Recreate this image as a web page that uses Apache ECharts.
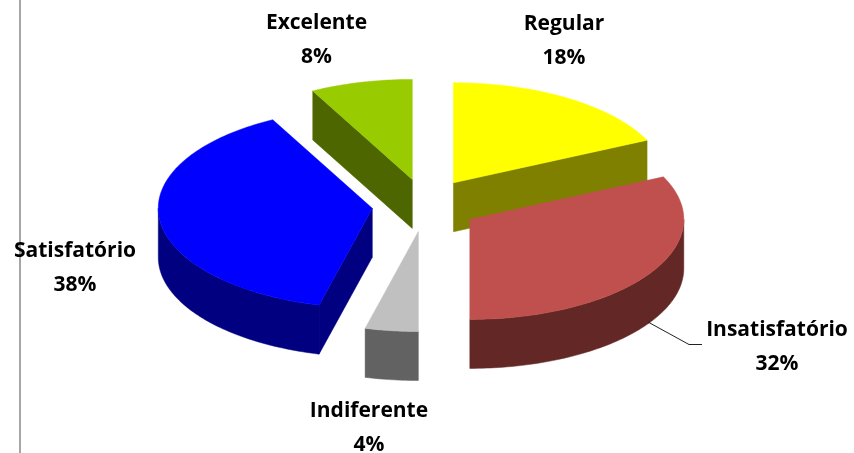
<!DOCTYPE html>
<html><head><meta charset="utf-8">
<style>html,body{margin:0;padding:0;background:#fff}#c{width:854px;height:453px}</style>
<script src="https://cdn.jsdelivr.net/npm/echarts@6/dist/echarts.min.js"></script>
</head><body><div id="c"></div>
<script>
const categories = ['Regular', 'Insatisfatório', 'Indiferente', 'Satisfatório', 'Excelente'];
const values = [18, 32, 4, 38.3, 7.7];
const topColors = ['#FFFF00', '#C0504D', '#C0C0C0', '#0000FF', '#99CC00'];
const sideColors = ['#808000', '#632826', '#626262', '#000080', '#4D6600'];
const labelCentres = [[564, 41.5], [777, 347], [369, 428.5], [75, 268], [316.5, 40.5]];

const CX = 425, CY = 205.2, RX = 214, RY = 100, EXPLODE = 0.248, DEPTH = 49;
const total = values.reduce((a, b) => a + b, 0);
const rad = v => v / total * 2 * Math.PI;
const starts = values.map((_, i) => values.slice(0, i).reduce((a, b) => a + b, 0));

function pt(c, a, dy) { return [c[0] + RX * Math.sin(a), c[1] - RY * Math.cos(a) + (dy || 0)]; }
function arc(c, a0, a1, dy) {
  const n = Math.max(2, Math.ceil((a1 - a0) / 0.02)), out = [];
  for (let k = 0; k <= n; k++) out.push(pt(c, a0 + (a1 - a0) * k / n, dy));
  return out;
}
function poly(points, fill) {
  return { type: 'polygon', shape: { points }, style: { fill, stroke: fill, lineWidth: 0.5 } };
}
function renderItem(params, api) {
  const i = params.dataIndex;
  const a0 = rad(starts[i]), a1 = rad(starts[i] + values[i]), mid = (a0 + a1) / 2;
  const c = [CX + EXPLODE * RX * Math.sin(mid), CY - EXPLODE * 107 * Math.cos(mid)];
  const apexLow = [c[0], c[1] + DEPTH], kids = [];
  // radial walls facing the viewer
  if (Math.sin(a1) > 0.01) kids.push(poly([c, pt(c, a1), pt(c, a1, DEPTH), apexLow], sideColors[i]));
  if (Math.sin(a0) < -0.01) kids.push(poly([c, pt(c, a0), pt(c, a0, DEPTH), apexLow], sideColors[i]));
  // outer wall: lower half of the rim only
  const f0 = Math.max(a0, Math.PI / 2), f1 = Math.min(a1, 3 * Math.PI / 2);
  if (f1 > f0) kids.push(poly(arc(c, f0, f1, 0).concat(arc(c, f0, f1, DEPTH).reverse()), sideColors[i]));
  // top face
  kids.push(poly([c].concat(arc(c, a0, a1, 0)), topColors[i]));
  // label
  kids.push({
    type: 'text', z2: 50,
    style: {
      x: labelCentres[i][0], y: labelCentres[i][1],
      text: categories[i] + '\n' + Math.round(values[i]) + '%',
      fill: '#000', align: 'center', verticalAlign: 'middle',
      font: 'bold 21px "Open Sans"', lineHeight: 34
    }
  });
  return { type: 'group', children: kids };
}
const chart = echarts.init(document.getElementById('c'), null, { renderer: 'canvas' });
chart.setOption({
  animation: false,
  backgroundColor: '#fff',
  graphic: [
    { type: 'line', z: -1, shape: { x1: 20, y1: 0, x2: 20, y2: 453 }, style: { stroke: '#a6a6a6', lineWidth: 2 } },
    { type: 'polyline', z: 10, shape: { points: [[648, 322], [689, 344.5], [702, 344.5]] }, style: { stroke: '#222', lineWidth: 1, fill: 'none' } }
  ],
  series: [{
    type: 'custom',
    coordinateSystem: 'none',
    renderItem,
    data: values.map((v, i) => ({ name: categories[i], value: v }))
  }]
});
</script></body></html>
